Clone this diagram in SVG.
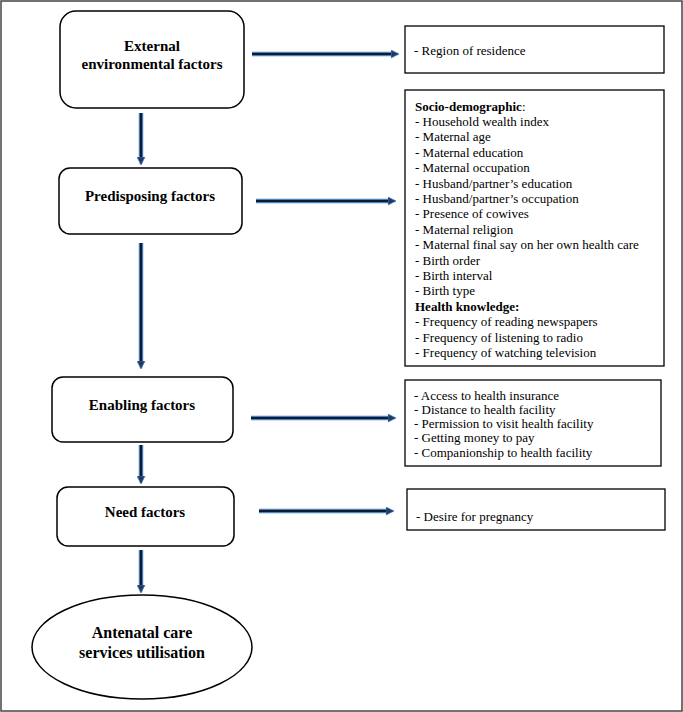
<svg xmlns="http://www.w3.org/2000/svg" width="683" height="712" viewBox="0 0 683 712">
<defs>
<style>
.box{fill:#fff;stroke:#000;stroke-width:1.5}
.lst{fill:#fff;stroke:#000;stroke-width:1.3}
.t{font-family:"Liberation Serif","Times New Roman",serif;font-size:13px;fill:#000}
.h{font-family:"Liberation Serif","Times New Roman",serif;font-size:15px;font-weight:bold;fill:#000;text-anchor:middle}
.b{font-weight:bold}
.o{stroke:#4f81bd;stroke-width:4.5;fill:none}
.i{stroke:#0e1c33;stroke-width:2.2;fill:none;marker-end:url(#ah)}
</style>
<marker id="ah" markerUnits="userSpaceOnUse" markerWidth="9" markerHeight="9" refX="7" refY="4.5" orient="auto">
<path d="M0,0.5 L8,4.5 L0,8.5 z" fill="#1f3864" stroke="#4f81bd" stroke-width="0.8"/>
</marker>
</defs>
<rect x="0" y="0" width="683" height="712" fill="#fff"/>
<rect x="1" y="1" width="681" height="710" fill="none" stroke="#444" stroke-width="1.5"/>

<g id="connectors">
<line class="o" x1="252" y1="54" x2="392" y2="54"/><line class="i" x1="252" y1="54" x2="398" y2="54"/>
<line class="o" x1="256" y1="201" x2="389" y2="201"/><line class="i" x1="256" y1="201" x2="395" y2="201"/>
<line class="o" x1="251" y1="418" x2="389" y2="418"/><line class="i" x1="251" y1="418" x2="395" y2="418"/>
<line class="o" x1="259" y1="511" x2="387" y2="511"/><line class="i" x1="259" y1="511" x2="393" y2="511"/>
<line class="o" x1="141" y1="113" x2="141" y2="158"/><line class="i" x1="141" y1="113" x2="141" y2="164"/>
<line class="o" x1="141" y1="243" x2="141" y2="362"/><line class="i" x1="141" y1="243" x2="141" y2="368"/>
<line class="o" x1="141" y1="445" x2="141" y2="477"/><line class="i" x1="141" y1="445" x2="141" y2="483"/>
<line class="o" x1="141" y1="550" x2="141" y2="586"/><line class="i" x1="141" y1="550" x2="141" y2="592"/>
</g>

<g id="external">
<rect class="box" x="60" y="11" width="184" height="97" rx="16"/>
<text class="h" x="152" y="51">External</text>
<text class="h" x="152" y="69">environmental factors</text>
</g>
<g id="region">
<rect class="lst" x="405" y="26" width="259" height="47"/>
<text class="t" x="414" y="55">- Region of residence</text>
</g>
<g id="predisposing">
<rect class="box" x="59" y="168" width="183" height="66" rx="11"/>
<text class="h" x="150" y="201">Predisposing factors</text>
</g>
<g id="predisposing-list">
<rect class="lst" x="405" y="90" width="259" height="276"/>
<text class="t" x="415" y="110.5"><tspan class="b">Socio-demographic</tspan>:</text>
<text class="t" x="415" y="125.9">- Household wealth index</text>
<text class="t" x="415" y="141.3">- Maternal age</text>
<text class="t" x="415" y="156.7">- Maternal education</text>
<text class="t" x="415" y="172.1">- Maternal occupation</text>
<text class="t" x="415" y="187.5">- Husband/partner’s education</text>
<text class="t" x="415" y="202.9">- Husband/partner’s occupation</text>
<text class="t" x="415" y="218.3">- Presence of cowives</text>
<text class="t" x="415" y="233.7">- Maternal religion</text>
<text class="t" x="415" y="249.1">- Maternal final say on her own health care</text>
<text class="t" x="415" y="264.5">- Birth order</text>
<text class="t" x="415" y="279.9">- Birth interval</text>
<text class="t" x="415" y="295.3">- Birth type</text>
<text class="t b" x="415" y="310.7">Health knowledge:</text>
<text class="t" x="415" y="326.1">- Frequency of reading newspapers</text>
<text class="t" x="415" y="341.5">- Frequency of listening to radio</text>
<text class="t" x="415" y="356.9">- Frequency of watching television</text>
</g>
<g id="enabling">
<rect class="box" x="52" y="377" width="181" height="65" rx="11"/>
<text class="h" x="142" y="410">Enabling factors</text>
</g>
<g id="enabling-list">
<rect class="lst" x="405" y="380" width="256" height="86"/>
<text class="t" x="414" y="399.5">- Access to health insurance</text>
<text class="t" x="414" y="413.8">- Distance to health facility</text>
<text class="t" x="414" y="428.1">- Permission to visit health facility</text>
<text class="t" x="414" y="442.4">- Getting money to pay</text>
<text class="t" x="414" y="456.7">- Companionship to health facility</text>
</g>
<g id="need">
<rect class="box" x="57" y="487" width="177" height="59" rx="11"/>
<text class="h" x="145" y="517">Need factors</text>
</g>
<g id="need-list">
<rect class="lst" x="407" y="489" width="258" height="41"/>
<text class="t" x="416" y="521">- Desire for pregnancy</text>
</g>
<g id="outcome">
<ellipse class="box" cx="142" cy="647" rx="110" ry="52"/>
<text class="h" x="142" y="638" style="font-size:16px">Antenatal care</text>
<text class="h" x="142" y="658" style="font-size:16px">services utilisation</text>
</g>
</svg>
